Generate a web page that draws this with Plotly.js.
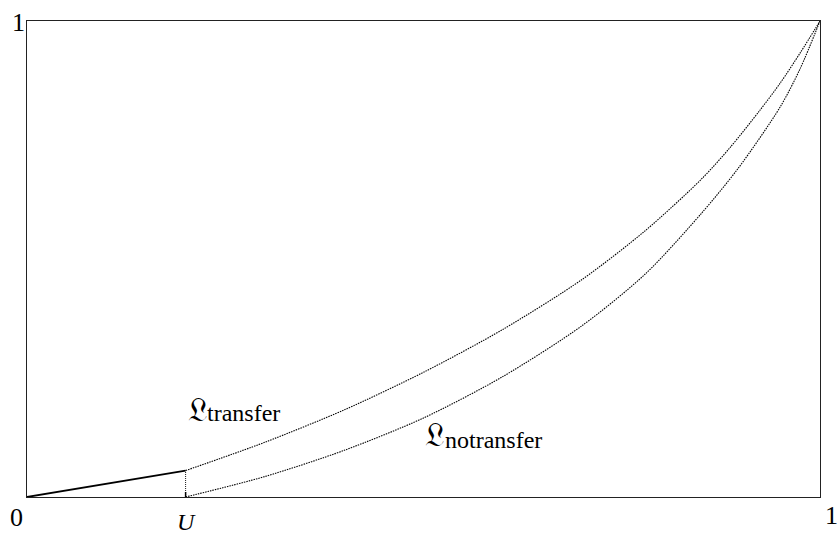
<!DOCTYPE html>
<html>
<head>
<meta charset="utf-8">
<script src="https://cdn.plot.ly/plotly-3.0.1.min.js"></script>
<style>html,body{margin:0;padding:0;background:#fff;}</style>
</head>
<body>
<div id="chart" style="width:837px;height:534px;"></div>
<script>
const U = 0.2;
const transferAtU = 0.0555;

const initialX = [0, U];
const initialY = [0, transferAtU];

const transferX = [0.2, 0.3, 0.4, 0.5, 0.6, 0.7, 0.78, 0.85, 0.8865, 0.924, 0.95, 0.975, 1.0];
const transferY = [0.0555, 0.115, 0.183, 0.262, 0.352, 0.457, 0.560, 0.667, 0.734, 0.812, 0.870, 0.933, 1.0];

const notransferX = [0.2, 0.3, 0.4, 0.5, 0.6, 0.7, 0.78, 0.85, 0.8966, 0.95, 0.975, 1.0];
const notransferY = [0.0, 0.043, 0.098, 0.166, 0.253, 0.360, 0.469, 0.595, 0.690, 0.820, 0.900, 1.0];

const labelSymbol = '𝔏';
const labelSubs = ['transfer', 'notransfer'];

const serif = 'Liberation Serif, Times New Roman, Times, DejaVu Serif, serif';

const curveLine = {color: '#000', width: 1.1, dash: '1.5px,1px', shape: 'spline', smoothing: 0.8};

const traces = [
  {x: initialX, y: initialY, mode: 'lines', line: {color: '#000', width: 1.8}, hoverinfo: 'skip'},
  {x: [U, U], y: [0, transferAtU], mode: 'lines', line: {color: '#000', width: 0.9, dash: '1px,1px'}, hoverinfo: 'skip'},
  {x: transferX, y: transferY, mode: 'lines', line: curveLine, hoverinfo: 'skip'},
  {x: notransferX, y: notransferY, mode: 'lines', line: curveLine, hoverinfo: 'skip'}
];

const axisBase = {range: [0, 1], showgrid: false, zeroline: false, showticklabels: false, ticks: '', showline: true, mirror: true, linecolor: '#222', linewidth: 1, fixedrange: true};

const symFont = {family: 'DejaVu Serif, serif', size: 33, color: '#000'};
const subFont = {family: serif, size: 24, color: '#000'};

const layout = {
  width: 837, height: 534,
  margin: {l: 27, r: 17, t: 21, b: 37, pad: 0},
  paper_bgcolor: '#fff', plot_bgcolor: '#fff',
  showlegend: false,
  xaxis: Object.assign({}, axisBase),
  yaxis: Object.assign({}, axisBase),
  shapes: [
    {type: 'line', xref: 'x', yref: 'y', x0: U, x1: U, ysizemode: 'pixel', yanchor: 0, y0: -6, y1: 5, line: {color: '#000', width: 1.5}}
  ],
  annotations: [
    {x: 0, y: 0, xref: 'x', yref: 'y', text: '0', showarrow: false, xshift: -11, yshift: -20, font: {family: serif, size: 26, color: '#000'}},
    {x: 1, y: 0, xref: 'x', yref: 'y', text: '1', showarrow: false, xshift: 11, yshift: -18, font: {family: serif, size: 26, color: '#000'}},
    {x: 0, y: 1, xref: 'x', yref: 'y', text: '1', showarrow: false, xshift: -9, yshift: -1, font: {family: serif, size: 26, color: '#000'}},
    {x: U, y: 0, xref: 'x', yref: 'y', text: '<i>U</i>', showarrow: false, xshift: 1, yshift: -25, font: {family: serif, size: 24, color: '#000'}},
    {x: 0.2, y: 0.183, xref: 'x', yref: 'y', text: labelSymbol, showarrow: false, xanchor: 'left', font: symFont},
    {x: 0.2, y: 0.176, xref: 'x', yref: 'y', text: labelSubs[0], showarrow: false, xanchor: 'left', xshift: 19, font: subFont},
    {x: 0.4994, y: 0.1305, xref: 'x', yref: 'y', text: labelSymbol, showarrow: false, xanchor: 'left', font: symFont},
    {x: 0.4994, y: 0.119, xref: 'x', yref: 'y', text: labelSubs[1], showarrow: false, xanchor: 'left', xshift: 20, font: subFont}
  ]
};

Plotly.newPlot('chart', traces, layout, {staticPlot: true, displayModeBar: false});
</script>
</body>
</html>
